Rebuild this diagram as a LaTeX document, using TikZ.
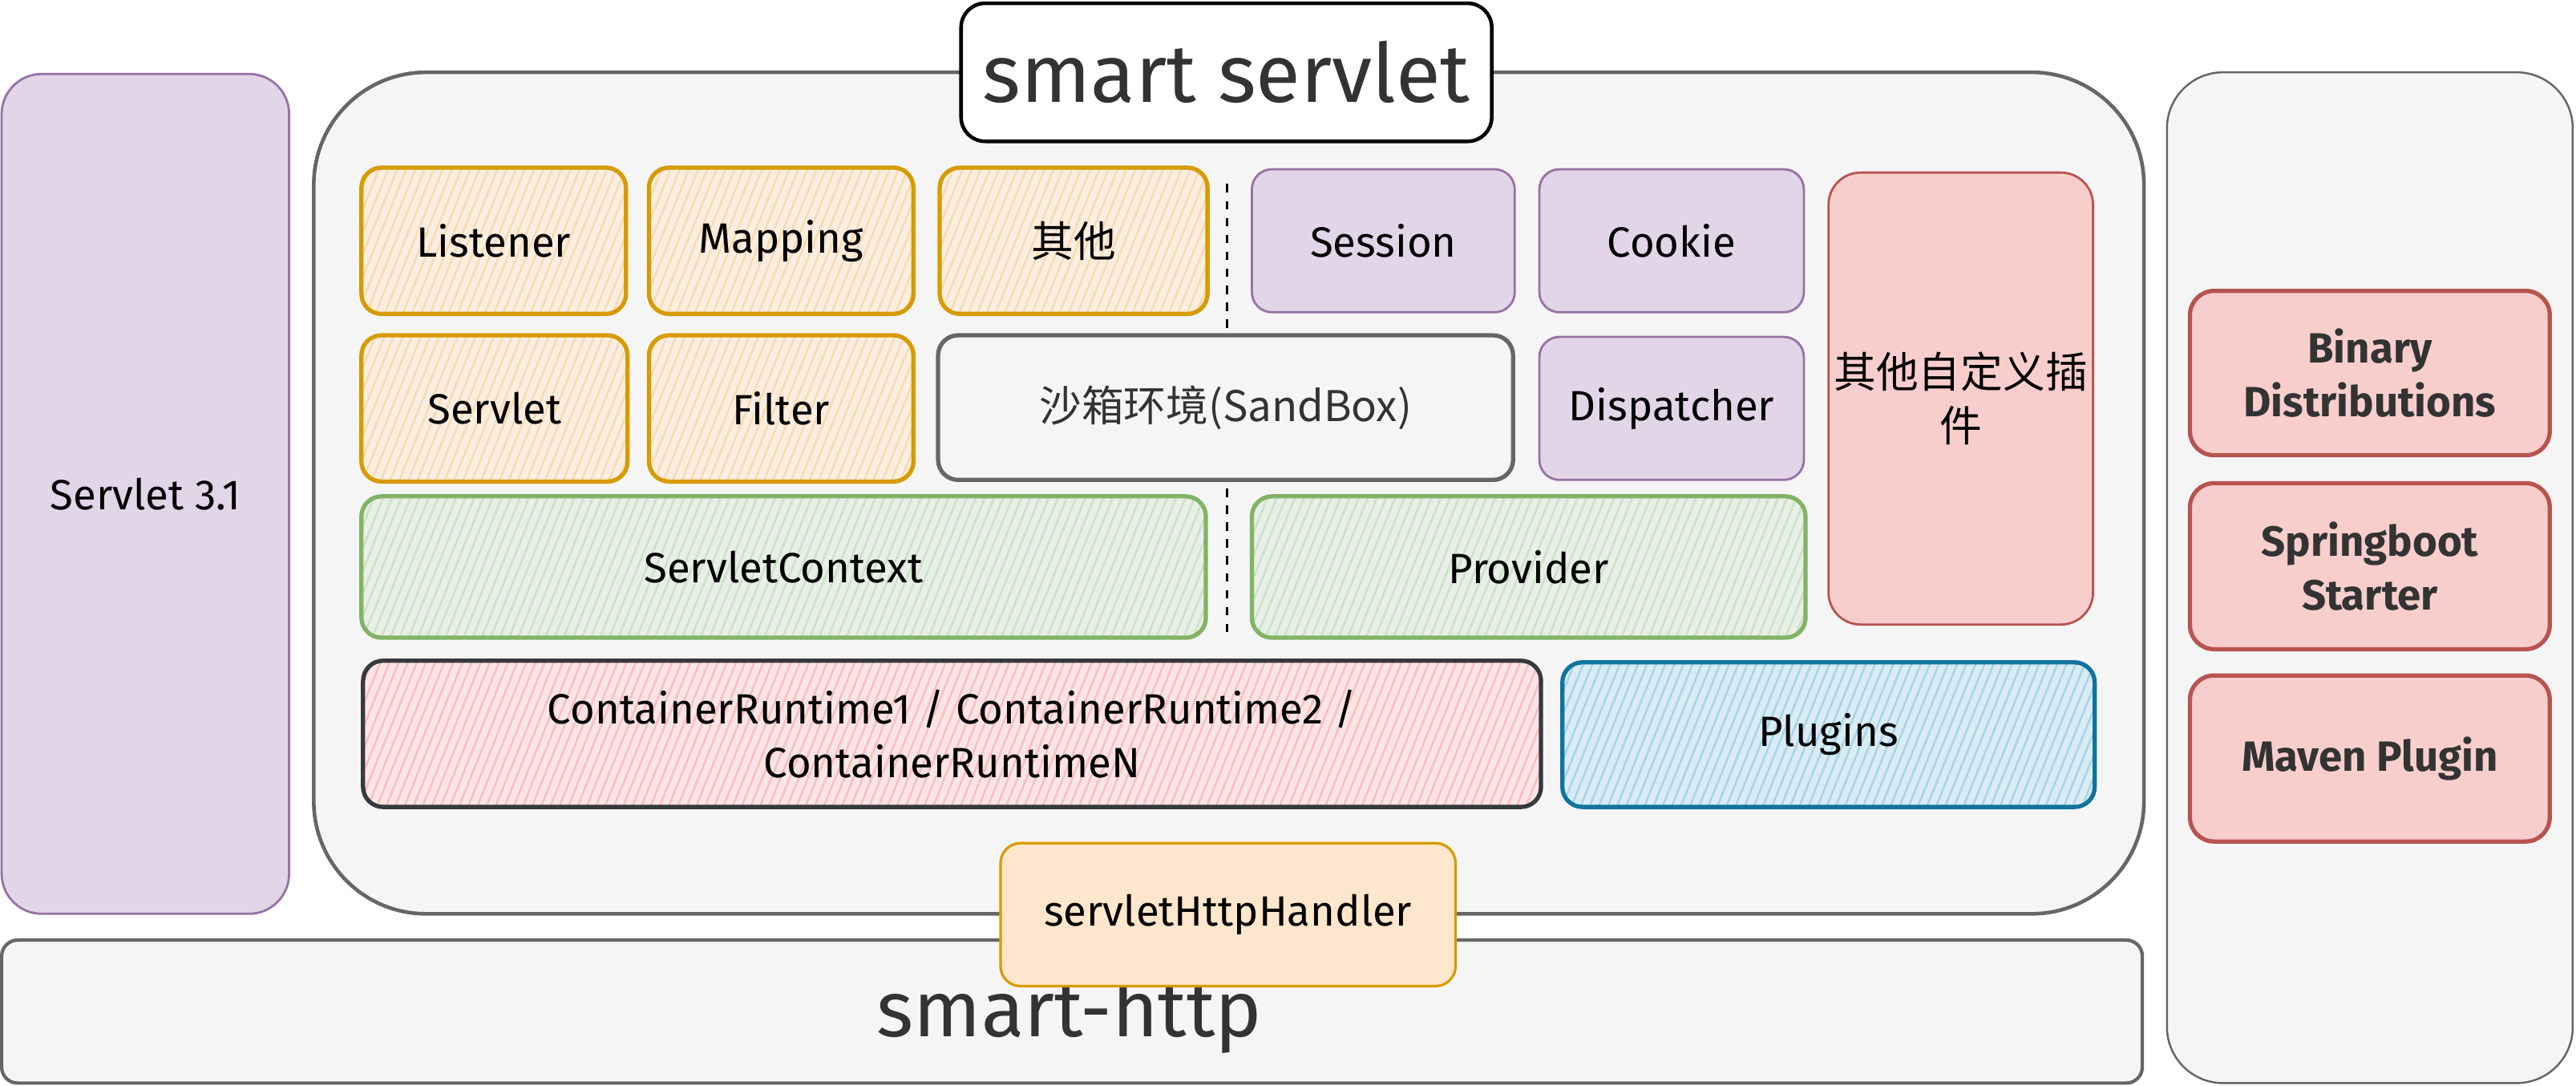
\documentclass[tikz,border=0pt]{standalone}
\usepackage{fontspec}
\setmainfont{Fira Sans}
\newfontfamily\cjk{Noto Sans CJK SC}
\usetikzlibrary{patterns.meta}
\definecolor{greyfill}{HTML}{F5F5F5}
\definecolor{greyline}{HTML}{666666}
\definecolor{darktext}{HTML}{333333}
\definecolor{purplefill}{HTML}{E1D5E7}
\definecolor{purpleline}{HTML}{9673A6}
\definecolor{orangefill}{HTML}{FFE6CC}
\definecolor{orangeline}{HTML}{D79B00}
\definecolor{greenfill}{HTML}{D5E8D4}
\definecolor{greenline}{HTML}{82B366}
\definecolor{redfill}{HTML}{F8CECC}
\definecolor{redline}{HTML}{B85450}
\definecolor{pinkfill}{HTML}{FFCCCC}
\definecolor{pinkline}{HTML}{36393D}
\definecolor{bluefill}{HTML}{B1DDF0}
\definecolor{blueline}{HTML}{10739E}

\begin{document}
\begin{tikzpicture}[x=0.20491mm, y=-0.20491mm,
  span/.style n args={4}{at={({(#1+#3)/2},{(#2+#4)/2})}, minimum width={(#3-#1)*0.20491mm}, minimum height={(#4-#2)*0.20491mm}},
  box/.style={rectangle, inner sep=0pt, rounded corners=2.5mm, align=center, font=\fontsize{15}{19}\selectfont},
  purplebox/.style={box, draw=purpleline, fill=purplefill, line width=0.8pt},
  redbox/.style={box, draw=redline, fill=redfill, line width=0.8pt},
  distbox/.style={box, draw=redline, fill=redfill, line width=1.5pt, rounded corners=3mm, text=darktext, font=\fontsize{15}{19}\selectfont\bfseries},
  hatch/.style={box, line width=1.5pt, pattern={Lines[angle=68, distance=3pt, line width=0.7pt]}},
  orangebox/.style={hatch, draw=orangeline, preaction={fill=orangefill!45!greyfill}, pattern color=orangefill!85!orangeline},
  greenbox/.style={hatch, draw=greenline, preaction={fill=greenfill!45!greyfill}, pattern color=greenfill!88!greenline},
  pinkbox/.style={hatch, draw=pinkline, preaction={fill=pinkfill!40!greyfill}, pattern color=pinkfill!92!red},
  bluebox/.style={hatch, draw=blueline, preaction={fill=bluefill!40!greyfill}, pattern color=bluefill!92!blueline},
  greybox/.style={box, draw=greyline, fill=greyfill, line width=1.5pt, text=darktext}
]
\useasboundingbox (0,0) rectangle (1568,660.3);

% Left and right columns
\node[box, draw=purpleline, fill=purplefill, line width=0.8pt, rounded corners=5mm, span={1}{45}{176}{556}] (servlet31) {Servlet 3.1};
\node[box, draw=greyline, fill=greyfill, line width=0.7pt, rounded corners=7mm, span={1319}{44}{1566}{659}] (tools) {};
\node[distbox, span={1333}{177}{1552}{277}] (binary) {Binary\\Distributions};
\node[distbox, span={1333}{294}{1552}{395}] (starter) {Springboot\\Starter};
\node[distbox, span={1333}{411}{1552}{512}] (maven) {Maven Plugin};

% smart-http
\node[box, draw=greyline, fill=greyfill, line width=1.2pt, rounded corners=2mm, span={1}{572}{1304}{659}] (http) {};
\node[text=darktext, font=\fontsize{28}{32}\selectfont] (httplabel) at (651,618) {smart-http};

% smart servlet container
\node[box, draw=greyline, fill=greyfill, line width=1.3pt, rounded corners=14mm, span={191}{44}{1305}{556}] (main) {};
\node[box, draw=black, fill=white, line width=1.3pt, rounded corners=3mm, text=darktext, font=\fontsize{29}{33}\selectfont, span={585}{2}{908}{86}] (title) {smart servlet};

% Servlet parts
\node[orangebox, span={220}{102}{381}{191}] (listener) {Listener};
\node[orangebox, span={395}{102}{556}{191}] (mapping) {Mapping};
\node[orangebox, span={572}{102}{735}{191}] (other) {\cjk 其他};
\node[orangebox, span={220}{204}{382}{293}] (servlet) {Servlet};
\node[orangebox, span={395}{204}{556}{293}] (filter) {Filter};

% Separator
\coordinate (septop) at (747,112);
\coordinate (sepbot) at (747,388);
\draw[dashed, line width=0.7pt] (septop) -- (sepbot);

\node[greybox, span={571}{204}{921}{292}] (sandbox) {\cjk 沙箱环境(SandBox)};
\node[purplebox, span={762}{103}{922}{190}] (session) {Session};
\node[purplebox, span={937}{103}{1098}{190}] (cookie) {Cookie};
\node[purplebox, span={937}{205}{1098}{292}] (dispatcher) {Dispatcher};
\node[redbox, rounded corners=4mm, span={1113}{105}{1274}{380}] (custom) {\cjk 其他自定义插\\\cjk 件};

\node[greenbox, span={220}{302}{734}{388}] (context) {ServletContext};
\node[greenbox, span={762}{302}{1099}{388}] (provider) {Provider};

\node[pinkbox, span={221}{402}{938}{491}] (runtime) {ContainerRuntime1 / ContainerRuntime2 /\\ContainerRuntimeN};
\node[bluebox, span={951}{403}{1275}{491}] (plugins) {Plugins};

% Handler
\node[box, draw=orangeline, fill=orangefill, line width=0.9pt, span={609}{513}{886}{600}] (handler) {servletHttpHandler};

\end{tikzpicture}
\end{document}
